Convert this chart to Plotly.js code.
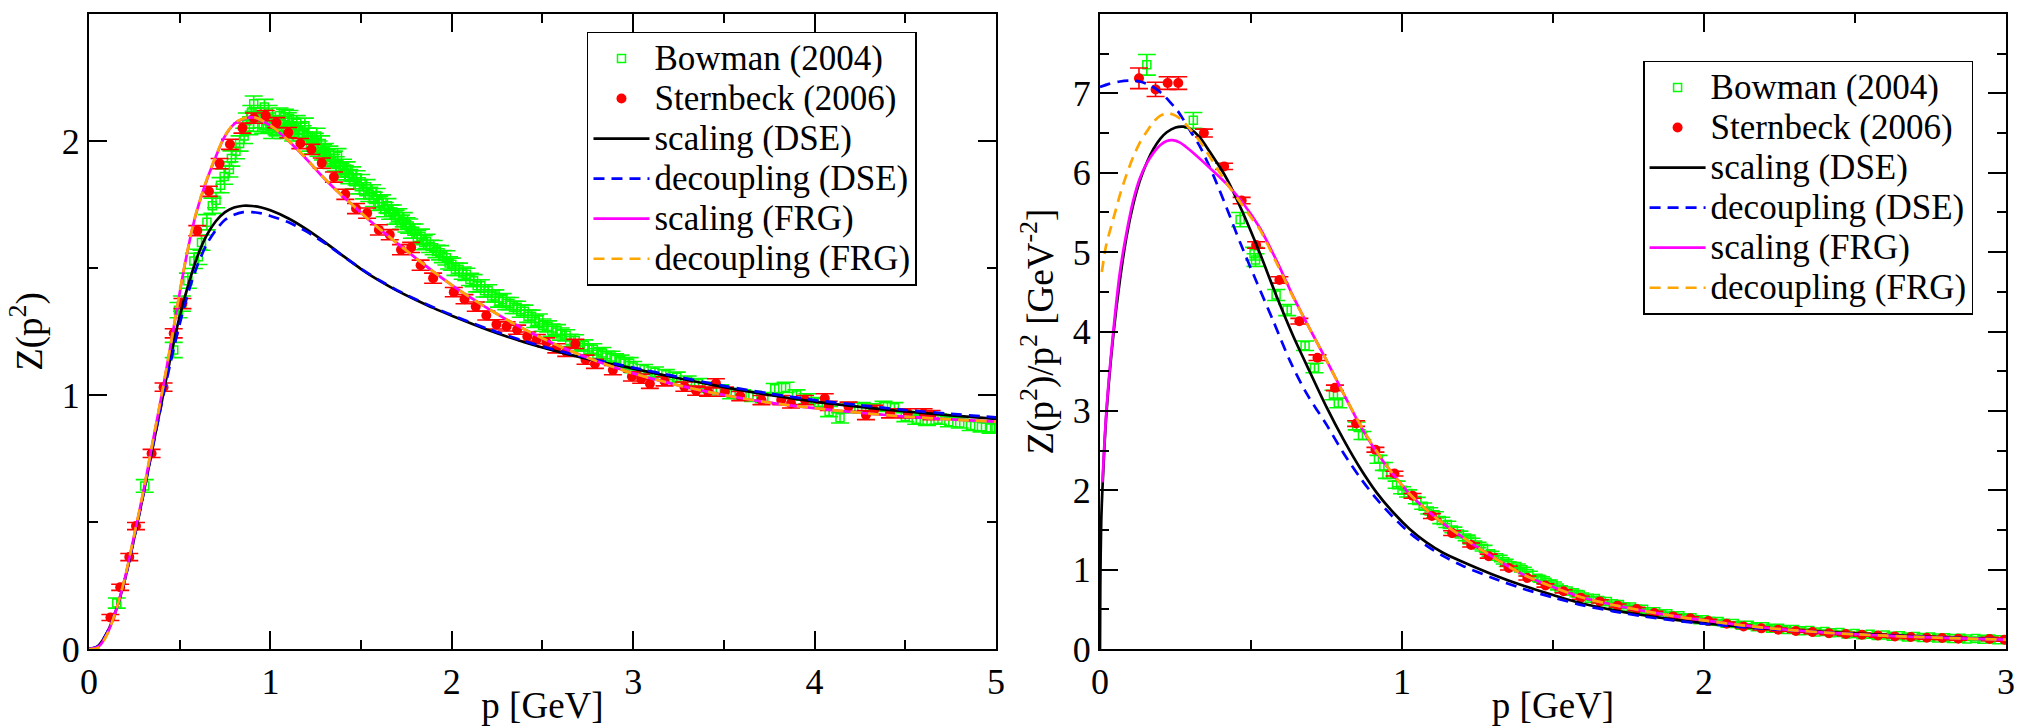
<!DOCTYPE html>
<html>
<head>
<meta charset="utf-8">
<script src="https://cdn.plot.ly/plotly-3.0.1.min.js"></script>
<style>
  html, body { margin: 0; padding: 0; background: #fff; }
  #chart { width: 2022px; height: 726px; }
</style>
</head>
<body>
<div id="chart"></div>
<script>
// ---------- Left panel: gluon dressing function Z(p^2) ----------
// Lattice data, Bowman et al. (2004)
const bowP = [0.153,0.307,0.467,0.493,0.512,0.545,0.578,0.603,0.62,0.65,0.68,0.70,0.725,0.745,0.774,0.785,0.81,0.83,0.855,0.884,
  0.908,0.93,0.948,0.967,0.98,0.995,1.02,1.04,1.059,1.08,1.096,1.115,1.135,1.155,1.178,1.2,1.22,1.245,1.265,1.29,
  1.31,1.335,1.36,1.385,1.41,1.435,1.46,1.49,1.515,1.545,1.57,1.6,1.63,1.66,1.69,1.72,1.75,1.78,1.81,1.845,
  1.88,1.915,1.95,1.985,2.02,2.06,2.1,2.14,2.18,2.22,2.26,2.3,2.34,2.38,2.42,2.46,2.5,2.55,2.6,2.65,
  2.7,2.75,2.8,2.85,2.9,2.95,3.0,3.06,3.12,3.18,3.24,3.3,3.36,3.42,3.48,3.54,3.6,3.66,3.72,3.78,
  3.84,3.9,3.96,4.02,4.08,4.14,4.2,4.26,4.32,4.38,4.44,4.5,4.56,4.62,4.68,4.74,4.8,4.86,4.92,4.97,5.0,
  0.87,0.895,0.92,0.96,0.99,1.01,1.05,1.07,1.105,1.125,1.145,1.19,1.21,1.235,1.255,1.28,1.3,1.325,1.35,1.37,
  1.4,1.42,1.45,1.475,1.5,1.53,1.56,1.585,1.615,1.645,1.675,1.705,1.735,1.765,1.795,1.83,1.86,1.9,1.935,1.97,
  2.0,2.04,2.08,2.12,2.16,2.2,2.24,2.28,2.32,2.36,2.4,2.44,2.48,2.53,2.58,2.63,2.68,2.73,2.78,2.83,2.88,2.93,2.98];
const bowZ = [0.181,0.642,1.177,1.334,1.36,1.45,1.528,1.544,1.60,1.68,1.745,1.767,1.826,1.86,1.888,1.931,1.96,1.99,2.02,2.055,
  2.147,2.068,2.10,2.134,2.08,2.062,2.07,2.05,2.068,2.095,2.081,2.06,2.045,2.04,2.03,2.02,1.99,2.0,1.97,1.955,
  1.94,1.92,1.91,1.885,1.875,1.86,1.84,1.82,1.80,1.79,1.77,1.755,1.73,1.72,1.70,1.68,1.67,1.645,1.62,1.60,
  1.585,1.565,1.545,1.52,1.495,1.48,1.455,1.43,1.41,1.39,1.37,1.36,1.345,1.33,1.31,1.29,1.275,1.255,1.24,1.215,
  1.195,1.18,1.16,1.15,1.14,1.125,1.11,1.10,1.09,1.08,1.07,1.055,1.045,1.03,1.02,1.005,1.0,0.995,0.99,1.025,
  1.03,1.0,0.985,0.97,0.935,0.91,0.95,0.95,0.945,0.955,0.95,0.915,0.905,0.90,0.905,0.895,0.89,0.88,0.875,0.87,0.87,
  2.08,2.11,2.10,2.06,2.11,2.04,2.10,2.04,2.09,2.03,2.07,2.06,2.02,1.98,2.02,1.99,1.96,1.95,1.93,1.94,
  1.90,1.89,1.87,1.855,1.84,1.82,1.80,1.785,1.76,1.745,1.72,1.705,1.69,1.665,1.645,1.625,1.605,1.58,1.56,1.54,
  1.515,1.495,1.475,1.45,1.43,1.41,1.39,1.375,1.36,1.345,1.33,1.31,1.295,1.27,1.255,1.235,1.215,1.195,1.18,1.165,1.15,1.135,1.125];
const bowErr = [0.02,0.025,0.03,0.03,0.03,0.03,0.03,0.03,0.03,0.03,0.03,0.03,0.03,0.03,0.03,0.03,0.03,0.03,0.03,0.03,
  0.03,0.03,0.03,0.03,0.03,0.03,0.03,0.03,0.03,0.03,0.03,0.03,0.03,0.03,0.03,0.03,0.03,0.03,0.03,0.03,
  0.028,0.028,0.028,0.028,0.028,0.028,0.028,0.028,0.028,0.028,0.028,0.028,0.028,0.028,0.028,0.028,0.028,0.028,0.028,0.028,
  0.024,0.024,0.024,0.024,0.024,0.024,0.024,0.024,0.024,0.024,0.024,0.024,0.024,0.024,0.024,0.024,0.024,0.024,0.024,0.024,
  0.022,0.022,0.022,0.022,0.022,0.022,0.022,0.02,0.02,0.02,0.02,0.02,0.02,0.02,0.02,0.02,0.02,0.02,0.02,0.02,
  0.02,0.02,0.02,0.02,0.02,0.02,0.02,0.02,0.02,0.02,0.02,0.02,0.02,0.02,0.02,0.02,0.02,0.02,0.02,0.02,0.02,
  0.03,0.03,0.03,0.03,0.03,0.03,0.03,0.03,0.03,0.03,0.03,0.03,0.03,0.03,0.03,0.03,0.03,0.03,0.03,0.03,
  0.028,0.028,0.028,0.028,0.028,0.028,0.028,0.028,0.028,0.028,0.028,0.028,0.028,0.028,0.028,0.028,0.028,0.028,0.028,0.028,
  0.024,0.024,0.024,0.024,0.024,0.024,0.024,0.024,0.024,0.024,0.024,0.024,0.024,0.022,0.022,0.022,0.022,0.022,0.022,0.022,0.022,0.022,0.022];

// Lattice data, Sternbeck et al. (2006)
const sternP = [0.118,0.172,0.222,0.259,0.345,0.411,0.467,0.515,0.597,0.661,0.72,0.777,0.846,0.91,0.974,1.033,1.099,1.165,1.226,1.283,
  1.35,1.413,1.472,1.533,1.598,1.658,1.72,1.776,1.828,1.897,2.011,2.07,2.132,2.19,2.246,2.302,2.36,2.416,2.469,2.522,
  2.576,2.631,2.681,2.737,2.789,2.888,2.993,3.044,3.092,3.173,3.282,3.347,3.413,3.456,3.506,3.59,3.707,3.816,3.87,3.947,
  4.056,4.078,4.187,4.283,4.328,4.416,4.514,4.601,4.645];
const sternZ = [0.124,0.243,0.362,0.484,0.77,1.031,1.243,1.36,1.647,1.802,1.911,1.987,2.051,2.09,2.1,2.072,2.033,1.99,1.967,1.913,
  1.858,1.79,1.734,1.716,1.65,1.631,1.572,1.581,1.511,1.46,1.405,1.377,1.348,1.313,1.278,1.27,1.257,1.23,1.22,1.207,
  1.184,1.17,1.201,1.139,1.123,1.098,1.073,1.064,1.044,1.054,1.033,1.017,1.013,1.046,1.013,0.996,0.98,0.98,0.967,0.98,
  0.987,0.957,0.954,0.921,0.941,0.928,0.928,0.928,0.921];
const sternErr = [0.012,0.012,0.014,0.014,0.016,0.016,0.018,0.02,0.02,0.02,0.02,0.02,0.02,0.02,0.02,0.02,0.02,0.02,0.02,0.02,
  0.02,0.02,0.02,0.02,0.02,0.02,0.02,0.02,0.02,0.02,0.018,0.018,0.018,0.018,0.018,0.018,0.018,0.018,0.018,0.018,
  0.018,0.018,0.018,0.018,0.018,0.018,0.018,0.018,0.018,0.018,0.018,0.018,0.018,0.018,0.018,0.018,0.018,0.018,0.018,0.018,
  0.018,0.018,0.018,0.018,0.018,0.018,0.018,0.018,0.018];

// Model curves
const dseP = [0,0.05,0.1,0.15,0.2,0.25,0.3,0.35,0.4,0.45,0.5,0.55,0.6,0.65,0.7,0.75,0.8,0.85,0.9,0.95,
  1.0,1.1,1.2,1.3,1.4,1.5,1.6,1.7,1.8,1.9,2.0,2.2,2.4,2.6,2.8,3.0,3.25,3.5,3.75,4.0,4.25,4.5,4.75,5.0];
const scalingDseZ = [0,0.012,0.065,0.155,0.28,0.44,0.61,0.79,0.97,1.15,1.31,1.44,1.55,1.63,1.685,1.72,1.738,1.745,1.744,1.738,
  1.727,1.695,1.652,1.602,1.548,1.496,1.45,1.41,1.375,1.342,1.312,1.256,1.208,1.168,1.134,1.104,1.066,1.031,1.0,0.974,0.953,0.935,0.92,0.906];
const decouplingDseZ = [0,0.012,0.065,0.155,0.28,0.44,0.61,0.79,0.965,1.13,1.28,1.41,1.515,1.595,1.65,1.69,1.71,1.72,1.72,1.715,
  1.705,1.68,1.643,1.598,1.547,1.497,1.452,1.412,1.377,1.345,1.315,1.26,1.212,1.172,1.138,1.108,1.071,1.036,1.006,0.98,0.96,0.941,0.926,0.912];
const frgP = [0,0.05,0.1,0.15,0.2,0.25,0.3,0.35,0.41,0.471,0.526,0.581,0.636,0.691,0.747,0.802,0.857,0.912,0.967,1.022,
  1.096,1.188,1.28,1.372,1.464,1.555,1.6,1.7,1.8,1.9,2.0,2.1,2.2,2.3,2.4,2.5,2.6,2.7,2.8,2.9,
  3.0,3.25,3.5,3.75,4.0,4.25,4.5,4.75,5.0];
const scalingFrgZ = [0,0.008,0.06,0.155,0.285,0.45,0.62,0.81,1.035,1.282,1.505,1.689,1.819,1.924,2.016,2.068,2.088,2.092,2.075,2.049,
  2.003,1.937,1.865,1.80,1.741,1.682,1.655,1.597,1.54,1.485,1.433,1.385,1.34,1.298,1.259,1.223,1.19,1.16,1.133,1.108,
  1.085,1.038,1.0,0.97,0.948,0.93,0.915,0.904,0.895];
const decouplingFrgZ = [0,0.004,0.058,0.155,0.287,0.452,0.623,0.812,1.037,1.285,1.508,1.692,1.822,1.927,2.018,2.07,2.09,2.093,2.076,2.05,
  2.004,1.938,1.866,1.80,1.741,1.682,1.655,1.597,1.54,1.485,1.433,1.385,1.34,1.298,1.259,1.223,1.19,1.16,1.133,1.108,
  1.085,1.038,1.0,0.97,0.948,0.93,0.915,0.904,0.895];

// ---------- Right panel: gluon propagator Z(p^2)/p^2 ----------
const bowP2 = [0.155,0.309,0.464,0.51,0.515,0.583,0.62,0.679,0.71,0.773,0.789,0.85,0.869,0.922,0.94,0.982,1.0,1.049,1.07,1.109,
  1.13,1.17,1.19,1.214,1.25,1.293,1.32,1.35,1.38,1.42,1.45,1.48,1.52,1.55,1.59,1.62,1.66,1.70,1.74,1.78,
  1.82,1.86,1.90,1.94,1.98,2.02,2.07,2.12,2.17,2.22,2.27,2.32,2.37,2.42,2.47,2.52,2.57,2.62,2.67,2.72,
  2.77,2.82,2.87,2.92,2.97,3.0,
  0.95,1.02,1.09,1.15,1.23,1.27,1.34,1.4,1.46,1.5,1.57,1.64,1.68,1.72,1.76,1.8,1.84,1.88,1.92,1.96,
  2.0,2.05,2.1,2.15,2.2,2.25,2.3,2.35,2.4,2.45,2.5,2.55,2.6,2.65,2.7,2.75,2.8,2.85,2.9,2.95];
const bowV2 = [7.36,6.66,5.41,4.98,4.90,4.46,4.27,3.82,3.54,3.20,3.10,2.81,2.69,2.39,2.30,2.07,2.0,1.87,1.80,1.69,
  1.62,1.50,1.45,1.40,1.31,1.20,1.15,1.07,1.04,0.95,0.89,0.84,0.77,0.73,0.68,0.64,0.60,0.57,0.53,0.50,
  0.47,0.44,0.415,0.39,0.37,0.35,0.325,0.30,0.28,0.26,0.245,0.23,0.215,0.205,0.19,0.18,0.17,0.16,0.152,0.145,
  0.138,0.132,0.127,0.122,0.118,0.116,
  2.20,1.96,1.74,1.57,1.36,1.27,1.10,1.00,0.88,0.82,0.71,0.635,0.60,0.56,0.53,0.50,0.47,0.445,0.42,0.395,
  0.37,0.345,0.32,0.30,0.28,0.262,0.247,0.232,0.22,0.208,0.196,0.186,0.176,0.166,0.158,0.15,0.143,0.137,0.131,0.126];
const bowErr2 = [0.13,0.1,0.09,0.08,0.08,0.07,0.07,0.06,0.06,0.06,0.06,0.05,0.05,0.05,0.05,0.045,0.045,0.04,0.04,0.04,
  0.04,0.035,0.035,0.035,0.035,0.03,0.03,0.03,0.03,0.03,0.025,0.025,0.025,0.025,0.025,0.02,0.02,0.02,0.02,0.02,
  0.02,0.02,0.02,0.02,0.02,0.02,0.018,0.018,0.018,0.018,0.018,0.018,0.018,0.018,0.018,0.018,0.018,0.018,0.018,0.018,
  0.018,0.018,0.018,0.018,0.018,0.018,
  0.05,0.045,0.04,0.04,0.035,0.035,0.03,0.03,0.03,0.025,0.025,0.025,0.02,0.02,0.02,0.02,0.02,0.02,0.02,0.02,
  0.02,0.02,0.018,0.018,0.018,0.018,0.018,0.018,0.018,0.018,0.018,0.018,0.018,0.018,0.018,0.018,0.018,0.018,0.018,0.018];

const sternP2 = [0.129,0.184,0.224,0.259,0.344,0.411,0.469,0.517,0.594,0.66,0.72,0.778,0.848,0.912,0.975,1.035,1.099,1.166,1.229,1.287,
  1.354,1.415,1.475,1.535,1.592,1.655,1.714,1.777,1.836,1.898,1.955,2.015,2.075,2.131,2.19,2.246,2.304,2.359,2.414,2.47,
  2.523,2.576,2.632,2.685,2.738,2.789,2.842,2.946,2.995];
const sternV2 = [7.19,7.05,7.13,7.13,6.50,6.08,5.65,5.09,4.65,4.13,3.67,3.29,2.84,2.51,2.21,1.93,1.675,1.46,1.31,1.17,
  1.02,0.895,0.80,0.727,0.647,0.60,0.546,0.504,0.454,0.411,0.386,0.353,0.319,0.285,0.26,0.243,0.227,0.214,0.2,0.189,
  0.18,0.17,0.159,0.151,0.142,0.138,0.13,0.126,0.117];
const sternErr2 = [0.13,0.09,0.08,0.08,0.05,0.04,0.04,0.04,0.04,0.035,0.035,0.035,0.035,0.03,0.03,0.03,0.03,0.03,0.025,0.025,
  0.025,0.025,0.02,0.02,0.02,0.02,0.02,0.02,0.02,0.02,0.02,0.02,0.02,0.02,0.02,0.02,0.02,0.02,0.02,0.02,
  0.02,0.02,0.02,0.02,0.02,0.02,0.02,0.02,0.02];

const scalingDseP2 = [0,0.001,0.004,0.009,0.02,0.044,0.066,0.088,0.11,0.132,0.155,0.177,0.2,0.221,0.25,0.276,0.3,0.33,0.364,0.419,
  0.475,0.53,0.585,0.64,0.695,0.751,0.806,0.861,0.916,0.971,1.026,1.082,1.137,1.2,1.3,1.4,1.5,1.6,1.7,1.8,
  1.9,2.0,2.2,2.4,2.6,2.8,3.0];
const scalingDseV2 = [0,0.8,1.6,2.1,2.9,3.95,4.65,5.2,5.6,5.9,6.13,6.3,6.43,6.51,6.57,6.58,6.55,6.45,6.26,5.93,
  5.48,4.98,4.44,3.94,3.49,3.04,2.64,2.28,1.97,1.72,1.51,1.34,1.21,1.10,0.94,0.80,0.68,0.57,0.49,0.425,
  0.37,0.325,0.26,0.212,0.175,0.145,0.12];
const decouplingDseP2 = [0,0.03,0.066,0.1,0.132,0.16,0.188,0.21,0.232,0.255,0.276,0.3,0.331,0.375,0.419,0.464,0.519,0.574,0.629,0.684,
  0.751,0.806,0.861,0.916,0.971,1.026,1.082,1.137,1.2,1.3,1.4,1.5,1.6,1.7,1.8,1.9,2.0,2.2,2.4,2.6,2.8,3.0];
const decouplingDseV2 = [7.08,7.12,7.15,7.16,7.15,7.11,7.05,6.98,6.89,6.79,6.67,6.52,6.33,5.97,5.56,5.12,4.62,4.13,3.63,3.22,
  2.82,2.47,2.16,1.89,1.66,1.46,1.30,1.17,1.05,0.895,0.76,0.65,0.55,0.475,0.41,0.36,0.318,0.255,0.208,0.172,0.143,0.119];
const scalingFrgP2 = [0.008,0.022,0.044,0.066,0.088,0.11,0.132,0.155,0.177,0.2,0.221,0.24,0.265,0.309,0.364,0.419,0.475,0.53,0.585,0.64,
  0.695,0.751,0.806,0.861,0.916,0.971,1.026,1.082,1.137,1.2,1.3,1.4,1.5,1.6,1.7,1.8,1.9,2.0,2.1,2.2,
  2.3,2.4,2.5,2.6,2.7,2.8,2.9,3.0];
const scalingFrgV2 = [2.1,3.05,4.0,4.75,5.25,5.65,5.93,6.12,6.25,6.35,6.40,6.41,6.38,6.25,6.06,5.86,5.61,5.30,4.89,4.44,
  4.03,3.63,3.22,2.82,2.48,2.20,1.95,1.75,1.58,1.41,1.16,0.94,0.78,0.645,0.555,0.48,0.415,0.36,0.31,0.268,
  0.235,0.207,0.186,0.168,0.153,0.139,0.128,0.118];
const decouplingFrgP2 = [0.006,0.02,0.033,0.05,0.066,0.088,0.11,0.132,0.155,0.177,0.2,0.225,0.25,0.275,0.3,0.33,0.364,0.4,0.419,0.464,
  0.5,0.53,0.585,0.64,0.695,0.751,0.806,0.861,0.916,0.971,1.026,1.082,1.137,1.2,1.3,1.4,1.5,1.6,1.7,1.8,
  1.9,2.0,2.1,2.2,2.3,2.4,2.5,2.6,2.7,2.8,2.9,3.0];
const decouplingFrgV2 = [4.75,5.08,5.27,5.5,5.72,5.98,6.2,6.38,6.52,6.64,6.72,6.75,6.72,6.65,6.54,6.4,6.2,5.98,5.87,5.63,
  5.44,5.28,4.86,4.43,4.03,3.63,3.22,2.83,2.49,2.20,1.95,1.75,1.58,1.41,1.16,0.94,0.78,0.645,0.555,0.48,
  0.415,0.36,0.31,0.268,0.235,0.207,0.186,0.168,0.153,0.139,0.128,0.118];

const legendNames = ['Bowman (2004)','Sternbeck (2006)','scaling (DSE)','decoupling (DSE)','scaling (FRG)','decoupling (FRG)'];

// ---------- Styling ----------
const FONT = '"Liberation Serif", "Times New Roman", Times, serif';
const GREEN = '#00ff00', RED = '#ff0000', BLACK = '#000000', BLUE = '#0000ff', MAGENTA = '#ff00ff', ORANGE = '#ffa500';
const DASH = '11px,7px';

// legend rows are packed tighter than the glyph size, so the entry text carries its own size
const entry = name => '<span style="font-size:35px">' + name + '</span>';

function lattice(x, y, err, name, color, symbol, xa, ya, leg) {
  return {
    x: x, y: y, name: entry(name), type: 'scatter', mode: 'markers',
    xaxis: xa, yaxis: ya, legend: leg,
    marker: symbol === 'square-open'
      ? {symbol: 'square-open', size: 8, color: color, line: {color: color, width: 1.5}}
      : {symbol: 'circle', size: 10, color: color, line: {width: 0}},
    error_y: {type: 'data', array: err, visible: true, color: color, thickness: 1.6, width: 9}
  };
}
function curve(x, y, name, color, dash, xa, ya, leg) {
  return {
    x: x, y: y, name: entry(name), type: 'scatter', mode: 'lines',
    xaxis: xa, yaxis: ya, legend: leg,
    line: {color: color, width: 2.7, dash: dash, shape: 'spline', smoothing: 0.8}
  };
}

const traces = [
  lattice(bowP, bowZ, bowErr, legendNames[0], GREEN, 'square-open', 'x', 'y', 'legend'),
  lattice(sternP, sternZ, sternErr, legendNames[1], RED, 'circle', 'x', 'y', 'legend'),
  curve(dseP, scalingDseZ, legendNames[2], BLACK, 'solid', 'x', 'y', 'legend'),
  curve(dseP, decouplingDseZ, legendNames[3], BLUE, DASH, 'x', 'y', 'legend'),
  curve(frgP, scalingFrgZ, legendNames[4], MAGENTA, 'solid', 'x', 'y', 'legend'),
  curve(frgP, decouplingFrgZ, legendNames[5], ORANGE, DASH, 'x', 'y', 'legend'),

  lattice(bowP2, bowV2, bowErr2, legendNames[0], GREEN, 'square-open', 'x2', 'y2', 'legend2'),
  lattice(sternP2, sternV2, sternErr2, legendNames[1], RED, 'circle', 'x2', 'y2', 'legend2'),
  curve(scalingDseP2, scalingDseV2, legendNames[2], BLACK, 'solid', 'x2', 'y2', 'legend2'),
  curve(decouplingDseP2, decouplingDseV2, legendNames[3], BLUE, DASH, 'x2', 'y2', 'legend2'),
  curve(scalingFrgP2, scalingFrgV2, legendNames[4], MAGENTA, 'solid', 'x2', 'y2', 'legend2'),
  curve(decouplingFrgP2, decouplingFrgV2, legendNames[5], ORANGE, DASH, 'x2', 'y2', 'legend2')
];

function axis(extra) {
  return Object.assign({
    showline: true, linecolor: BLACK, linewidth: 2, mirror: 'ticks',
    ticks: 'inside', ticklen: 18, tickwidth: 2, tickcolor: BLACK,
    showgrid: false, zeroline: false, tick0: 0, dtick: 1,
    tickfont: {family: FONT, size: 36, color: BLACK},
    minor: {ticks: 'inside', ticklen: 9, tickwidth: 2, tickcolor: BLACK, dtick: 0.5, tick0: 0, showgrid: false},
    fixedrange: true
  }, extra);
}

const titleFont = {family: FONT, size: 37, color: BLACK};
const legendBase = {
  xanchor: 'left', yanchor: 'top', bgcolor: '#ffffff', bordercolor: BLACK, borderwidth: 1.5,
  font: {family: FONT, size: 28.5, color: BLACK}, itemwidth: 56, tracegroupgap: 0
};

const layout = {
  width: 2022, height: 726,
  margin: {l: 0, r: 0, t: 14, b: 77, pad: 0},
  paper_bgcolor: '#ffffff', plot_bgcolor: '#ffffff',
  font: {family: FONT, color: BLACK},
  showlegend: true,
  xaxis: axis({domain: [0.04402, 0.49258], range: [0, 5], anchor: 'y',
    title: {text: 'p [GeV]', font: titleFont, standoff: 4}}),
  yaxis: axis({domain: [0, 1], range: [0, 2.5], anchor: 'x',
    title: {text: 'Z(p<sup>2</sup>)', font: titleFont, standoff: 8}}),
  xaxis2: axis({domain: [0.54402, 0.99209], range: [0, 3], anchor: 'y2',
    title: {text: 'p [GeV]', font: titleFont, standoff: 4}}),
  yaxis2: axis({domain: [0, 1], range: [0, 8], anchor: 'x2',
    title: {text: 'Z(p<sup>2</sup>)/p<sup>2</sup> [GeV<sup>-2</sup>]', font: titleFont, standoff: 8}}),
  legend: Object.assign({x: 0.2903, y: 0.9717}, legendBase),
  legend2: Object.assign({x: 0.8126, y: 0.926}, legendBase)
};

Plotly.newPlot('chart', traces, layout, {staticPlot: true, displayModeBar: false});
</script>
</body>
</html>
